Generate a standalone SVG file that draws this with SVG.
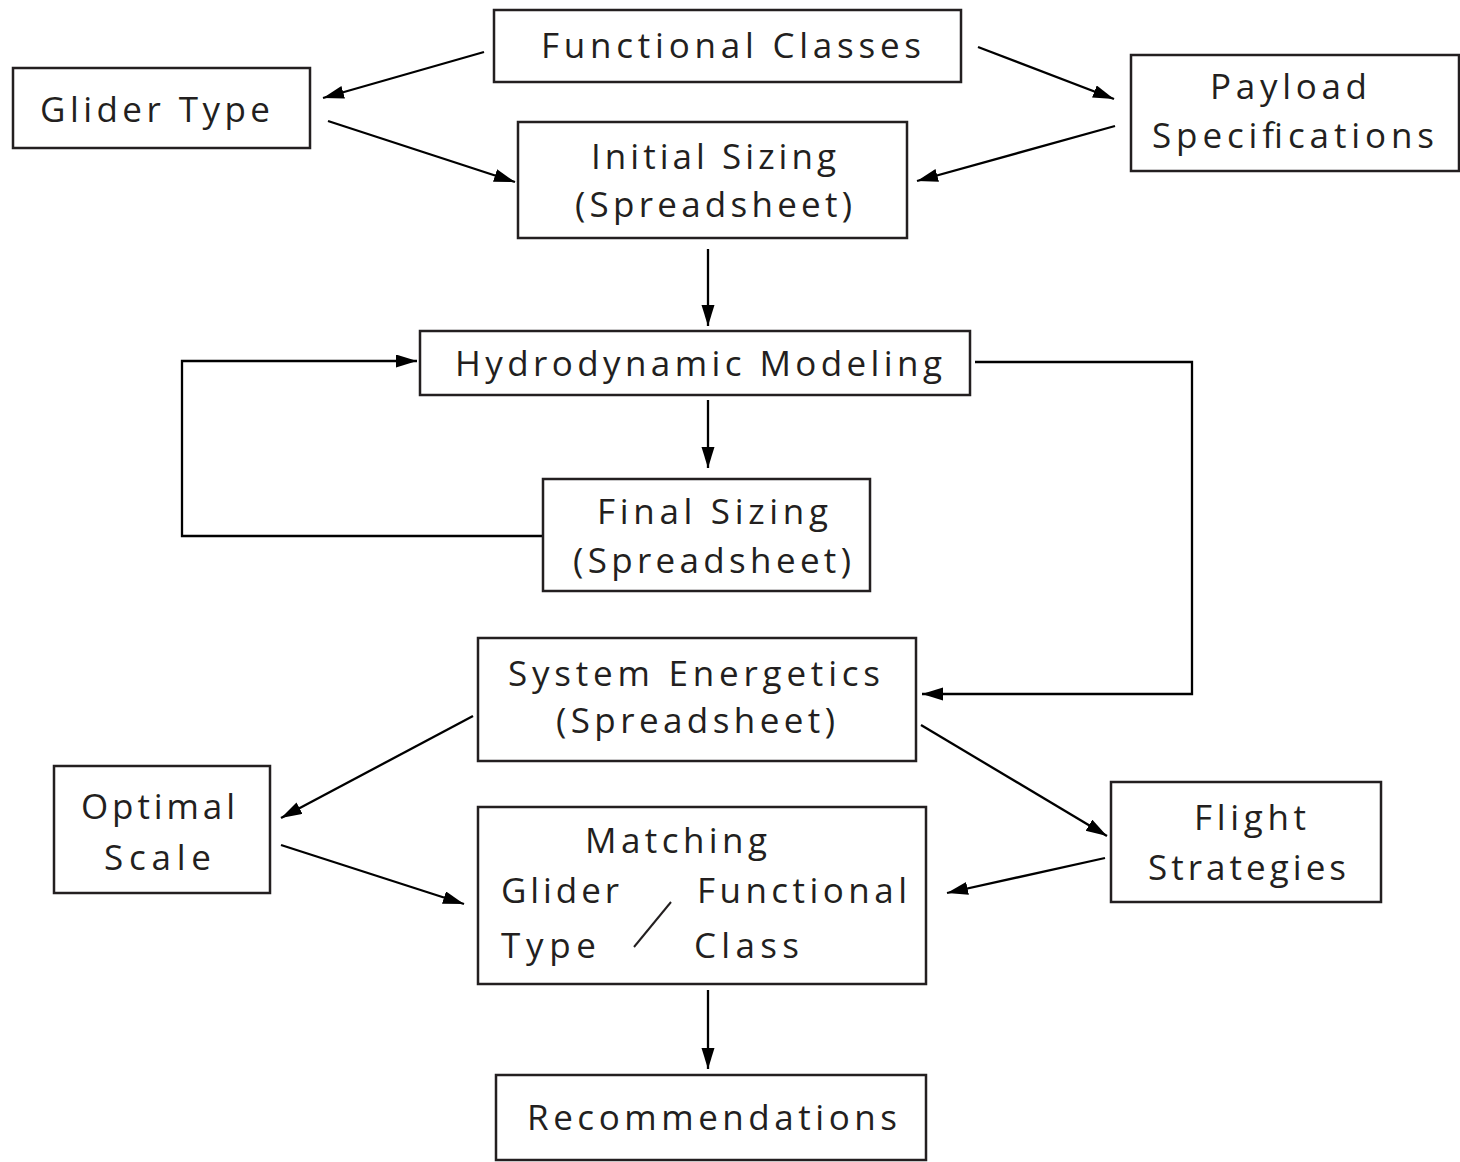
<svg xmlns="http://www.w3.org/2000/svg" width="1460" height="1162" viewBox="0 0 1460 1162">
<style>
.box{fill:#fff;stroke:#231f20;stroke-width:2.5}
.t{font-family:"Open Sans","Liberation Sans",sans-serif;font-size:35px;fill:#231f20}
.c{fill:none;stroke:#000;stroke-width:2.3}
</style>
<defs>
<marker id="ah" markerUnits="userSpaceOnUse" markerWidth="22" markerHeight="14" refX="21" refY="6.5" orient="auto">
<path d="M0,0 L21,6.5 L0,13 Z" fill="#000"/>
</marker>
</defs>
<rect width="1460" height="1162" fill="#fff"/>
<g id="connectors">
<path class="c" d="M484,52 L323,98" marker-end="url(#ah)"/>
<path class="c" d="M328,121 L515,182" marker-end="url(#ah)"/>
<path class="c" d="M978,47 L1114,99" marker-end="url(#ah)"/>
<path class="c" d="M1115,126 L917,181" marker-end="url(#ah)"/>
<path class="c" d="M708,249 L708,326" marker-end="url(#ah)"/>
<path class="c" d="M708,400 L708,468" marker-end="url(#ah)"/>
<path class="c" d="M543,536 H182 V361 H417" marker-end="url(#ah)"/>
<path class="c" d="M975,362 H1192 V694 H922" marker-end="url(#ah)"/>
<path class="c" d="M473,716 L281,818" marker-end="url(#ah)"/>
<path class="c" d="M281,845 L464,904" marker-end="url(#ah)"/>
<path class="c" d="M921,725 L1107,836" marker-end="url(#ah)"/>
<path class="c" d="M1105,858 L947,893" marker-end="url(#ah)"/>
<path class="c" d="M708,990 L708,1069" marker-end="url(#ah)"/>
</g>
<g id="functional-classes">
<rect class="box" x="494" y="10" width="467" height="72"/>
<text class="t" x="541" y="58" textLength="380">Functional Classes</text>
</g>
<g id="glider-type">
<rect class="box" x="13" y="68" width="297" height="80"/>
<text class="t" x="40" y="122" textLength="230">Glider Type</text>
</g>
<g id="payload-specifications">
<rect class="box" x="1131" y="55" width="328" height="116"/>
<text class="t" x="1210" y="99" textLength="157">Payload</text>
<text class="t" x="1152" y="148" textLength="282">Specifications</text>
</g>
<g id="initial-sizing">
<rect class="box" x="518" y="122" width="389" height="116"/>
<text class="t" x="591" y="169" textLength="245">Initial Sizing</text>
<text class="t" x="575" y="217" textLength="277">(Spreadsheet)</text>
</g>
<g id="hydrodynamic-modeling">
<rect class="box" x="420" y="331" width="550" height="64"/>
<text class="t" x="455" y="376" textLength="487">Hydrodynamic Modeling</text>
</g>
<g id="final-sizing">
<rect class="box" x="543" y="479" width="327" height="112"/>
<text class="t" x="597" y="524" textLength="231">Final Sizing</text>
<text class="t" x="573" y="573" textLength="278">(Spreadsheet)</text>
</g>
<g id="system-energetics">
<rect class="box" x="478" y="638" width="438" height="123"/>
<text class="t" x="508" y="686" textLength="372">System Energetics</text>
<text class="t" x="556" y="733" textLength="279">(Spreadsheet)</text>
</g>
<g id="optimal-scale">
<rect class="box" x="54" y="766" width="216" height="127"/>
<text class="t" x="81" y="819" textLength="154">Optimal</text>
<text class="t" x="104" y="870" textLength="107">Scale</text>
</g>
<g id="matching">
<rect class="box" x="478" y="807" width="448" height="177"/>
<text class="t" x="585" y="853" textLength="182">Matching</text>
<text class="t" x="501" y="903" textLength="118">Glider</text>
<text class="t" x="697" y="903" textLength="210">Functional</text>
<text class="t" x="501" y="958" textLength="95">Type</text>
<text class="t" x="694" y="958" textLength="105">Class</text>
<line x1="634" y1="947" x2="671" y2="902" stroke="#231f20" stroke-width="2"/>
</g>
<g id="flight-strategies">
<rect class="box" x="1111" y="782" width="270" height="120"/>
<text class="t" x="1194" y="830" textLength="112">Flight</text>
<text class="t" x="1148" y="880" textLength="198">Strategies</text>
</g>
<g id="recommendations">
<rect class="box" x="496" y="1075" width="430" height="85"/>
<text class="t" x="527" y="1130" textLength="370">Recommendations</text>
</g>
</svg>
